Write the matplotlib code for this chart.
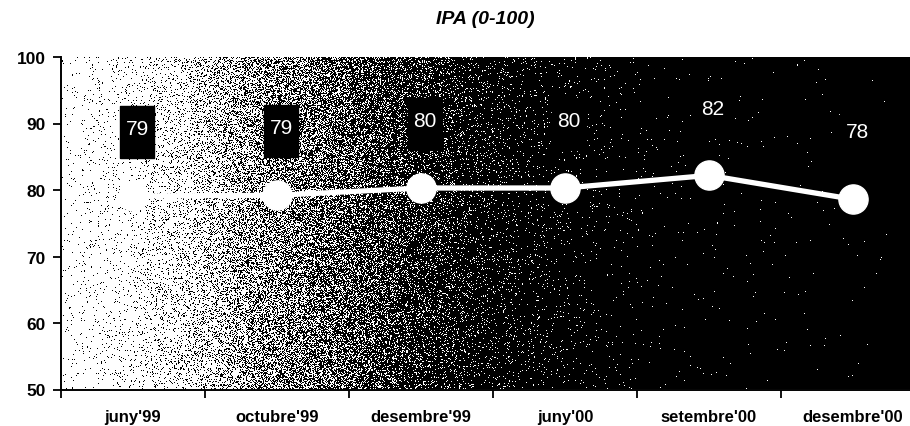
import matplotlib.pyplot as plt
import matplotlib.transforms as mtransforms
import numpy as np
from matplotlib.path import Path

# chart data
months = ["juny'99", "octubre'99", "desembre'99", "juny'00", "setembre'00", "desembre'00"]
ipa = [79.1, 79.2, 80.3, 80.3, 82.2, 78.6]
ipa_labels = ['79', '79', '80', '80', '82', '78']
yticks = [50, 60, 70, 80, 90, 100]


def dithered_background(width, height):
    # white-to-black horizontal fill, drawn as scattered black dots
    rng = np.random.default_rng(7)
    frac = np.linspace(0, 1, width)
    dens = np.interp(frac, [0.0, 0.08, 0.15, 0.24, 0.33, 0.41, 0.5, 0.58, 0.7, 1.0],
                     [0.02, 0.06, 0.16, 0.45, 0.65, 0.82, 0.93, 0.97, 0.995, 1.0])
    dens = np.tile(dens, (height, 1))
    return (rng.random((height, width)) < dens).astype(float)


def main():
    fig = plt.figure(figsize=(9.1, 4.27), dpi=100)
    ax = fig.add_axes([61 / 910, 1 - 390.5 / 427, 1 - 61 / 910, (390.5 - 58) / 427])

    x = np.arange(len(months))
    xmin, xmax = -0.5, -0.5 + 849 / 144

    bg = dithered_background(849, 333)
    ax.imshow(bg, cmap='gray_r', vmin=0, vmax=1, extent=(xmin, xmax, 50, 100),
              aspect='auto', interpolation='nearest', zorder=0)

    ax.plot(x, ipa, color='white', lw=3.8, marker='o', markersize=21,
            markerfacecolor='white', markeredgecolor='white', zorder=3)

    # tall black boxes behind the value labels
    box = Path([(-0.32, -0.5), (0.32, -0.5), (0.32, 0.5), (-0.32, 0.5), (-0.32, -0.5)])
    box_tr = mtransforms.offset_copy(ax.transData, fig, x=3, y=46, units='points')
    ax.plot(x, ipa, linestyle='none', marker=box, markersize=38,
            markerfacecolor='black', markeredgecolor='black', transform=box_tr, zorder=4)
    for xi, yi, lab in zip(x, ipa, ipa_labels):
        ax.annotate(lab, (xi, yi), xytext=(3, 48.5), textcoords='offset points',
                    ha='center', va='center', color='white', fontsize=15,
                    family='Liberation Sans', zorder=5)

    ax.set_xticks(x)
    ax.set_xticklabels(months, family='Liberation Sans', fontsize=12, fontweight='bold')
    ax.set_xticks(np.arange(-0.5, len(months) - 1, 1), minor=True)
    ax.tick_params(axis='x', which='major', length=0, pad=14)
    ax.tick_params(axis='x', which='minor', length=6, width=1.3, direction='out')

    ax.set_yticks(yticks)
    ax.set_yticklabels([str(v) for v in yticks], family='Liberation Sans',
                       fontsize=12.5, fontweight='bold')
    ax.tick_params(axis='y', length=6, width=1.3, direction='out', pad=5)

    # limits last, so the tick setters cannot widen them
    ax.set_xlim(xmin, xmax)
    ax.set_ylim(50, 100)

    for side in ['top', 'right']:
        ax.spines[side].set_visible(False)
    for side in ['left', 'bottom']:
        ax.spines[side].set_linewidth(1.4)

    fig.text((61 + 910) / 2 / 910, 1 - 19 / 427, 'IPA (0-100)', ha='center', va='center',
             family='Liberation Sans', fontsize=14, fontweight='bold', style='italic')

    fig.savefig('out.png', dpi=100)


main()
